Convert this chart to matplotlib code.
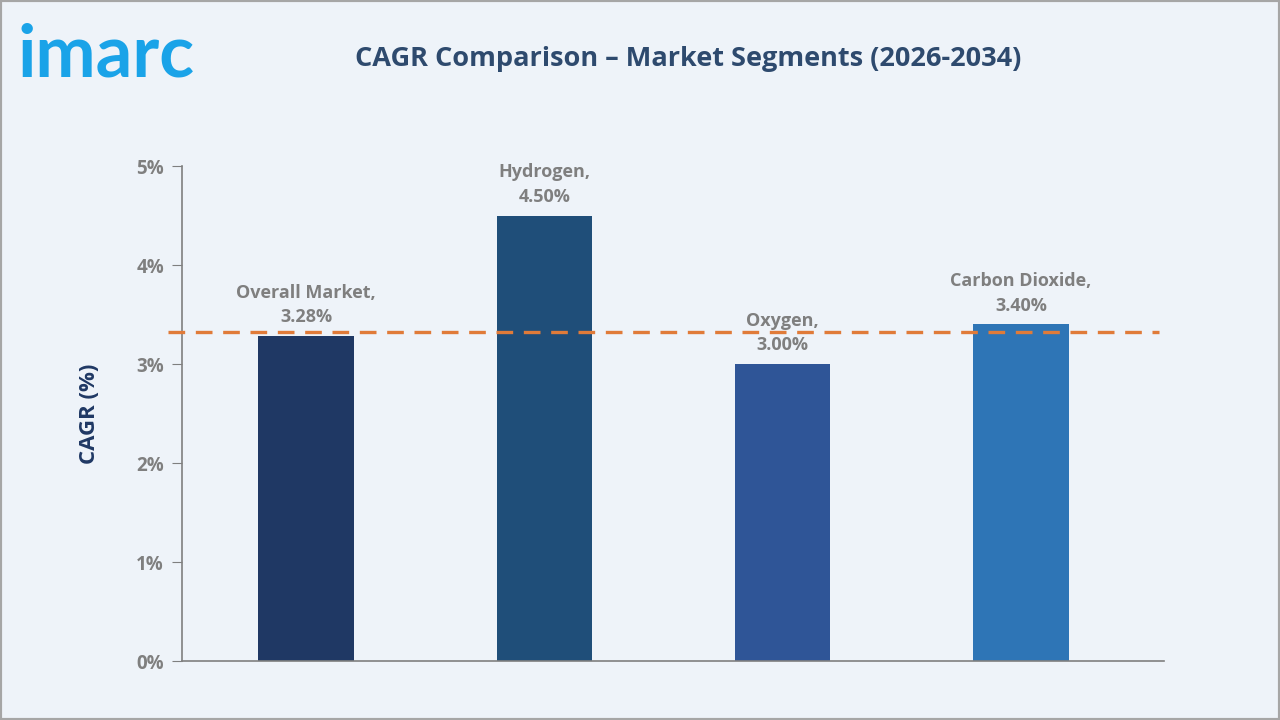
import matplotlib.pyplot as plt
from matplotlib.patches import Rectangle

# Données
segments = ['Overall Market', 'Hydrogen', 'Oxygen', 'Carbon Dioxide']
cagr = [3.28, 4.50, 3.00, 3.40]
bar_colors = ['#1f3864', '#1f4e79', '#2f5597', '#2e75b6']
ref_line = 3.32
yticks = [0, 1, 2, 3, 4, 5]

plt.rcParams['font.family'] = ['Open Sans', 'DejaVu Sans']
bg = '#eef3f9'

fig = plt.figure(figsize=(12.8, 7.2), dpi=100, facecolor=bg)
ax = fig.add_axes([0.1422, 0.0819, 0.7672, 0.6875], facecolor=bg)

x = range(len(segments))
ax.bar(x, cagr, width=0.40, color=bar_colors, zorder=2)
# ligne de référence (déborde un peu à gauche de l'axe)
ax.plot([-0.58, 3.58], [ref_line, ref_line], color='#e07b39', linestyle=(0, (5, 3.2)),
        linewidth=2.4, zorder=3, clip_on=False)

for i, (name, v) in enumerate(zip(segments, cagr)):
    ax.text(i, v + 0.1, f'{name},\n{v:.2f}%', ha='center', va='bottom',
            fontsize=13, fontweight='bold', color='#7f7f7f', linespacing=1.45)

ax.set_xlim(-0.52, 3.6)
ax.set_ylim(0, 5)
ax.set_yticks(yticks)
ax.set_yticklabels([f'{t}%' for t in yticks], fontsize=13.5, fontweight='bold', color='#7f7f7f')
ax.set_xticks([])
ax.tick_params(axis='y', length=7, color='#7f7f7f', pad=6)
for s in ['top', 'right']:
    ax.spines[s].set_visible(False)
for s in ['left', 'bottom']:
    ax.spines[s].set_color('#7f7f7f')
    ax.spines[s].set_linewidth(1.2)
ax.set_ylabel('CAGR (%)', fontsize=16, fontweight='bold', color='#1f3864', labelpad=26)

fig.text(0.5375, 0.918, 'CAGR Comparison \u2013 Market Segments (2026-2034)', ha='center', va='center',
         fontsize=19.5, fontweight='bold', color='#2e4a6e')
fig.text(0.014, 0.922, 'imarc', ha='left', va='center', fontsize=52, fontweight='bold',
         color='#1aa3e8', family=['Lato', 'DejaVu Sans'])

fig.patches.append(Rectangle((0, 0), 1, 1, transform=fig.transFigure, fill=False,
                             edgecolor='#a6a6a6', linewidth=3))

fig.savefig('out.png', dpi=100, facecolor=bg)
